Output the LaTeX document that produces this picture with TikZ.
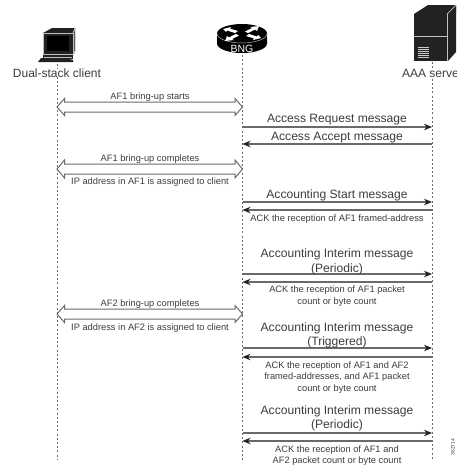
\documentclass[tikz,border=0pt]{standalone}
\usepackage{fontspec}
\setmainfont{Liberation Sans}
\usetikzlibrary{arrows.meta,calc}
\definecolor{ink}{HTML}{3C3C3C}
\definecolor{wire}{HTML}{6A6A6A}
\definecolor{solid}{HTML}{222222}
\tikzset{
  every node/.style={text=ink,inner sep=0pt,outer sep=0pt},
  life/.style={draw=wire,line width=0.9pt,dash pattern=on 2pt off 2.2pt},
  msg/.style={draw=wire,line width=1.1pt,-{Stealth[length=8pt,width=6.5pt,color=solid]}},
  bigtxt/.style={font=\fontsize{12.1}{14.5}\selectfont,align=center,yshift=-1.5pt},
  midtxt/.style={font=\fontsize{9.3}{11.5}\selectfont,align=center,yshift=-1.2pt},
  icon/.style={fill=solid,draw=none},
  facet/.style={draw=white!75!black,line width=0.7pt,fill=solid,line join=round},
  dblarrow/.style={draw=wire,line width=1pt,fill=white,line join=miter},
  caption/.style={font=\fontsize{12}{14}\selectfont,fill=white}
}
\newcommand{\hollow}[3]{%
  \draw[dblarrow] (#1) -- ($(#1)+(7.5,-#3)$) -- ($(#1)+(7.5,-5)$) -- ($(#2)+(-7.5,-5)$) -- ($(#2)+(-7.5,-#3)$) -- (#2)
    -- ($(#2)+(-7.5,#3)$) -- ($(#2)+(-7.5,5)$) -- ($(#1)+(7.5,5)$) -- ($(#1)+(7.5,#3)$) -- cycle;}
\begin{document}
\begin{tikzpicture}[x=1pt,y=-1pt]
\useasboundingbox (0,0) rectangle (456,466);
\clip (0,0) rectangle (456,466);

% lifeline ends
\coordinate (cT) at (57,64); \coordinate (cB) at (57,460);
\coordinate (bT) at (242.5,55); \coordinate (bB) at (242.5,460);
\coordinate (aT) at (432,62); \coordinate (aB) at (432,460);
\draw[life] (cT) -- (cB);
\draw[life] (bT) -- (bB);
\draw[life] (aT) -- (aB);

% client icon
\fill[icon] (43,33) -- (52,28) -- (75,28) -- (73,33) -- cycle;
\draw[facet] (73,33) -- (75,28) -- (75,51) -- (73,55) -- cycle;
\draw[facet] (43,33) rectangle (73,54);
\fill[solid] (47,36) rectangle (69,51);
\fill[icon] (43,55) -- (73,55) -- (73,59) -- (43,59) -- cycle;
\fill[icon] (41,58) -- (66,58) -- (73,60) -- (73,62) -- (38,62) -- cycle;
\draw[white!75!black,line width=.5pt] (44,57.5) -- (72,57.5);

% router icon
\fill[solid] (217,33.5) -- (217,43.5) arc[start angle=180,end angle=0,x radius=25,y radius=9.5] -- (267,33.5) -- cycle;
\fill[solid] (242,33.5) ellipse[x radius=25,y radius=9.5];
\draw[white!70!black,line width=.5pt] (217,33.5) arc[start angle=180,end angle=0,x radius=25,y radius=9.5];
\fill[white] (223,29) -- (231,27) -- (230,28.6) -- (238,31) -- (235,33) -- (227,30.5) -- (226,32) -- cycle;
\fill[white] (261,38) -- (253,40) -- (254,38.4) -- (246,36) -- (249,34) -- (257,36.5) -- (258,35) -- cycle;
\fill[white] (259,26) -- (257,31) -- (255,29.6) -- (248,33) -- (245,31.5) -- (252,28) -- (250,27) -- cycle;
\fill[white] (225,41) -- (227,36) -- (229,37.4) -- (236,34) -- (239,35.5) -- (232,39) -- (234,40) -- cycle;
\node[text=white,font=\fontsize{10.5}{12}\selectfont] (bng) at (242,48.5) {BNG};

% server icon
\fill[icon] (414,14) -- (428,5) -- (456,5) -- (456,14) -- (447,14) -- cycle;
\fill[icon] (448,14) -- (456,6) -- (456,52) -- (448,61) -- cycle;
\fill[icon] (414,14) rectangle (447,61);
\draw[white!75!black,line width=.7pt] (447,14) -- (456,5);
\draw[white!75!black,line width=.7pt] (447.5,14) -- (447.5,61);
\draw[white!75!black,line width=.7pt] (414,36) -- (447,36);
\foreach \yy in {47.5,49.5,51.5,53.5,55.5,57.5}
  \draw[white!80!black,line width=.8pt] (418,\yy) -- (429,\yy);

% icon captions
\node[caption] (clientlbl) at (57,73) {Dual-stack client};
\node[caption,anchor=west] (aaalbl) at (402,73) {AAA server};

% hollow double arrows
\coordinate (d1a) at (57,107); \coordinate (d1b) at (242.5,107);
\coordinate (d2a) at (57,169); \coordinate (d2b) at (242.5,169);
\coordinate (d3a) at (57,314); \coordinate (d3b) at (242.5,314);
\hollow{d1a}{d1b}{8.5}
\hollow{d2a}{d2b}{9}
\hollow{d3a}{d3b}{8.5}
\node[midtxt] (t1) at (150,96) {AF1 bring-up starts};
\node[midtxt] (t2) at (150,157.5) {AF1 bring-up completes};
\node[midtxt] (t3) at (150,180.5) {IP address in AF1 is assigned to client};
\node[midtxt] (t4) at (150,303) {AF2 bring-up completes};
\node[midtxt] (t5) at (150,327) {IP address in AF2 is assigned to client};

% messages
\coordinate (m1a) at (242.5,127); \coordinate (m1b) at (432,127);
\coordinate (m2a) at (242.5,144); \coordinate (m2b) at (432,144);
\coordinate (m3a) at (242.5,202); \coordinate (m3b) at (432,202);
\coordinate (m4a) at (242.5,210); \coordinate (m4b) at (432,210);
\coordinate (m5a) at (242.5,274); \coordinate (m5b) at (432,274);
\coordinate (m6a) at (242.5,282); \coordinate (m6b) at (432,282);
\coordinate (m7a) at (242.5,348); \coordinate (m7b) at (432,348);
\coordinate (m8a) at (242.5,357); \coordinate (m8b) at (432,357);
\coordinate (m9a) at (242.5,433); \coordinate (m9b) at (432,433);
\coordinate (m10a) at (242.5,441); \coordinate (m10b) at (432,441);
\draw[msg] (m1a) -- (m1b);
\draw[msg] (m2b) -- (m2a);
\draw[msg] (m3a) -- (m3b);
\draw[msg] (m4b) -- (m4a);
\draw[msg] (m5a) -- (m5b);
\draw[msg] (m6b) -- (m6a);
\draw[msg] (m7a) -- (m7b);
\draw[msg] (m8b) -- (m8a);
\draw[msg] (m9a) -- (m9b);
\draw[msg] (m10b) -- (m10a);

\node[bigtxt] (l1) at (337,118) {Access Request message};
\node[bigtxt] (l2) at (337,136) {Access Accept message};
\node[bigtxt] (l3) at (337,193.5) {Accounting Start message};
\node[midtxt] (l4) at (337,218) {ACK the reception of AF1 framed-address};
\node[bigtxt] (l5) at (337,260.5) {Accounting Interim message\\(Periodic)};
\node[midtxt] (l6) at (337,295) {ACK the reception of AF1 packet\\count or byte count};
\node[bigtxt] (l7) at (337,334) {Accounting Interim message\\(Triggered)};
\node[midtxt] (l8) at (337,376) {ACK the reception of AF1 and AF2\\framed-addresses, and AF1 packet\\count or byte count};
\node[bigtxt] (l9) at (337,417) {Accounting Interim message\\(Periodic)};
\node[midtxt] (l10) at (337,454.5) {ACK the reception of AF1 and\\AF2 packet count or byte count};

\node[font=\fontsize{5}{6}\selectfont,rotate=90] (fig) at (453,447) {362714};
\end{tikzpicture}
\end{document}
